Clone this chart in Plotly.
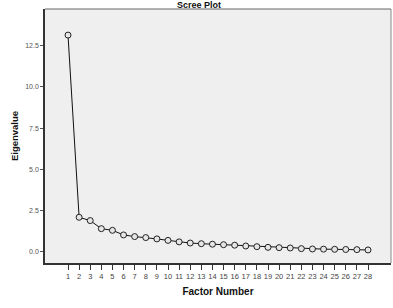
import plotly.graph_objects as go

factors = list(range(1, 29))
eigenvalues = [13.14, 2.10, 1.90, 1.41, 1.31, 1.03, 0.93, 0.87, 0.79, 0.70,
               0.61, 0.54, 0.50, 0.47, 0.44, 0.41, 0.36, 0.32, 0.28, 0.26,
               0.24, 0.20, 0.18, 0.17, 0.16, 0.15, 0.14, 0.12]
y_ticks = [0.0, 2.5, 5.0, 7.5, 10.0, 12.5]

W, H = 393, 308
ml, mr, mt, mb = 45, 2, 9, 45

fig = go.Figure()
fig.add_trace(go.Scatter(
    x=factors, y=eigenvalues, mode="lines+markers",
    line=dict(color="#111111", width=1),
    marker=dict(symbol="circle", size=6, color="#e6e6e6",
                line=dict(color="#222222", width=1)),
    showlegend=False,
))

fig.update_layout(
    width=W, height=H,
    margin=dict(l=ml, r=mr, t=mt, b=mb),
    paper_bgcolor="white",
    plot_bgcolor="#efefef",
    font=dict(family="Liberation Sans, Arial, sans-serif", color="#444444"),
    title=dict(text="<b>Scree Plot</b>", x=199 / W, xanchor="center",
               xref="container", y=1 - 2 / H, yref="container", yanchor="top",
               pad=dict(t=0, b=0, l=0, r=0),
               font=dict(size=9, color="#111111")),
    xaxis=dict(
        range=[-1.07, 30.07], tickmode="array", tickvals=factors,
        ticktext=[str(f) for f in factors],
        showgrid=False, zeroline=False,
        showline=True, linecolor="#333333", linewidth=1.5,
        ticks="outside", ticklen=5, tickcolor="#333333", tickwidth=1,
        tickfont=dict(size=7.5, color="#444444"),
        title=dict(text="<b>Factor Number</b>", font=dict(size=10, color="#111111"), standoff=8),
    ),
    yaxis=dict(
        range=[-0.67, 14.72], tickmode="array", tickvals=y_ticks,
        ticktext=[f"{v:.1f}" for v in y_ticks],
        showgrid=False, zeroline=False,
        showline=True, linecolor="#333333", linewidth=1.5,
        ticks="outside", ticklen=3, tickcolor="#555555", tickwidth=1,
        tickfont=dict(size=7, color="#555555"),
        title=dict(text="<b>Eigenvalue</b>", font=dict(size=9.5, color="#111111"), standoff=5),
    ),
    shapes=[
        dict(type="line", xref="paper", yref="paper", x0=0, x1=1, y0=1, y1=1,
             line=dict(color="#666666", width=1)),
        dict(type="line", xref="paper", yref="paper", x0=1, x1=1, y0=0, y1=1,
             line=dict(color="#888888", width=1)),
    ],
)

fig.write_html("out.html")
